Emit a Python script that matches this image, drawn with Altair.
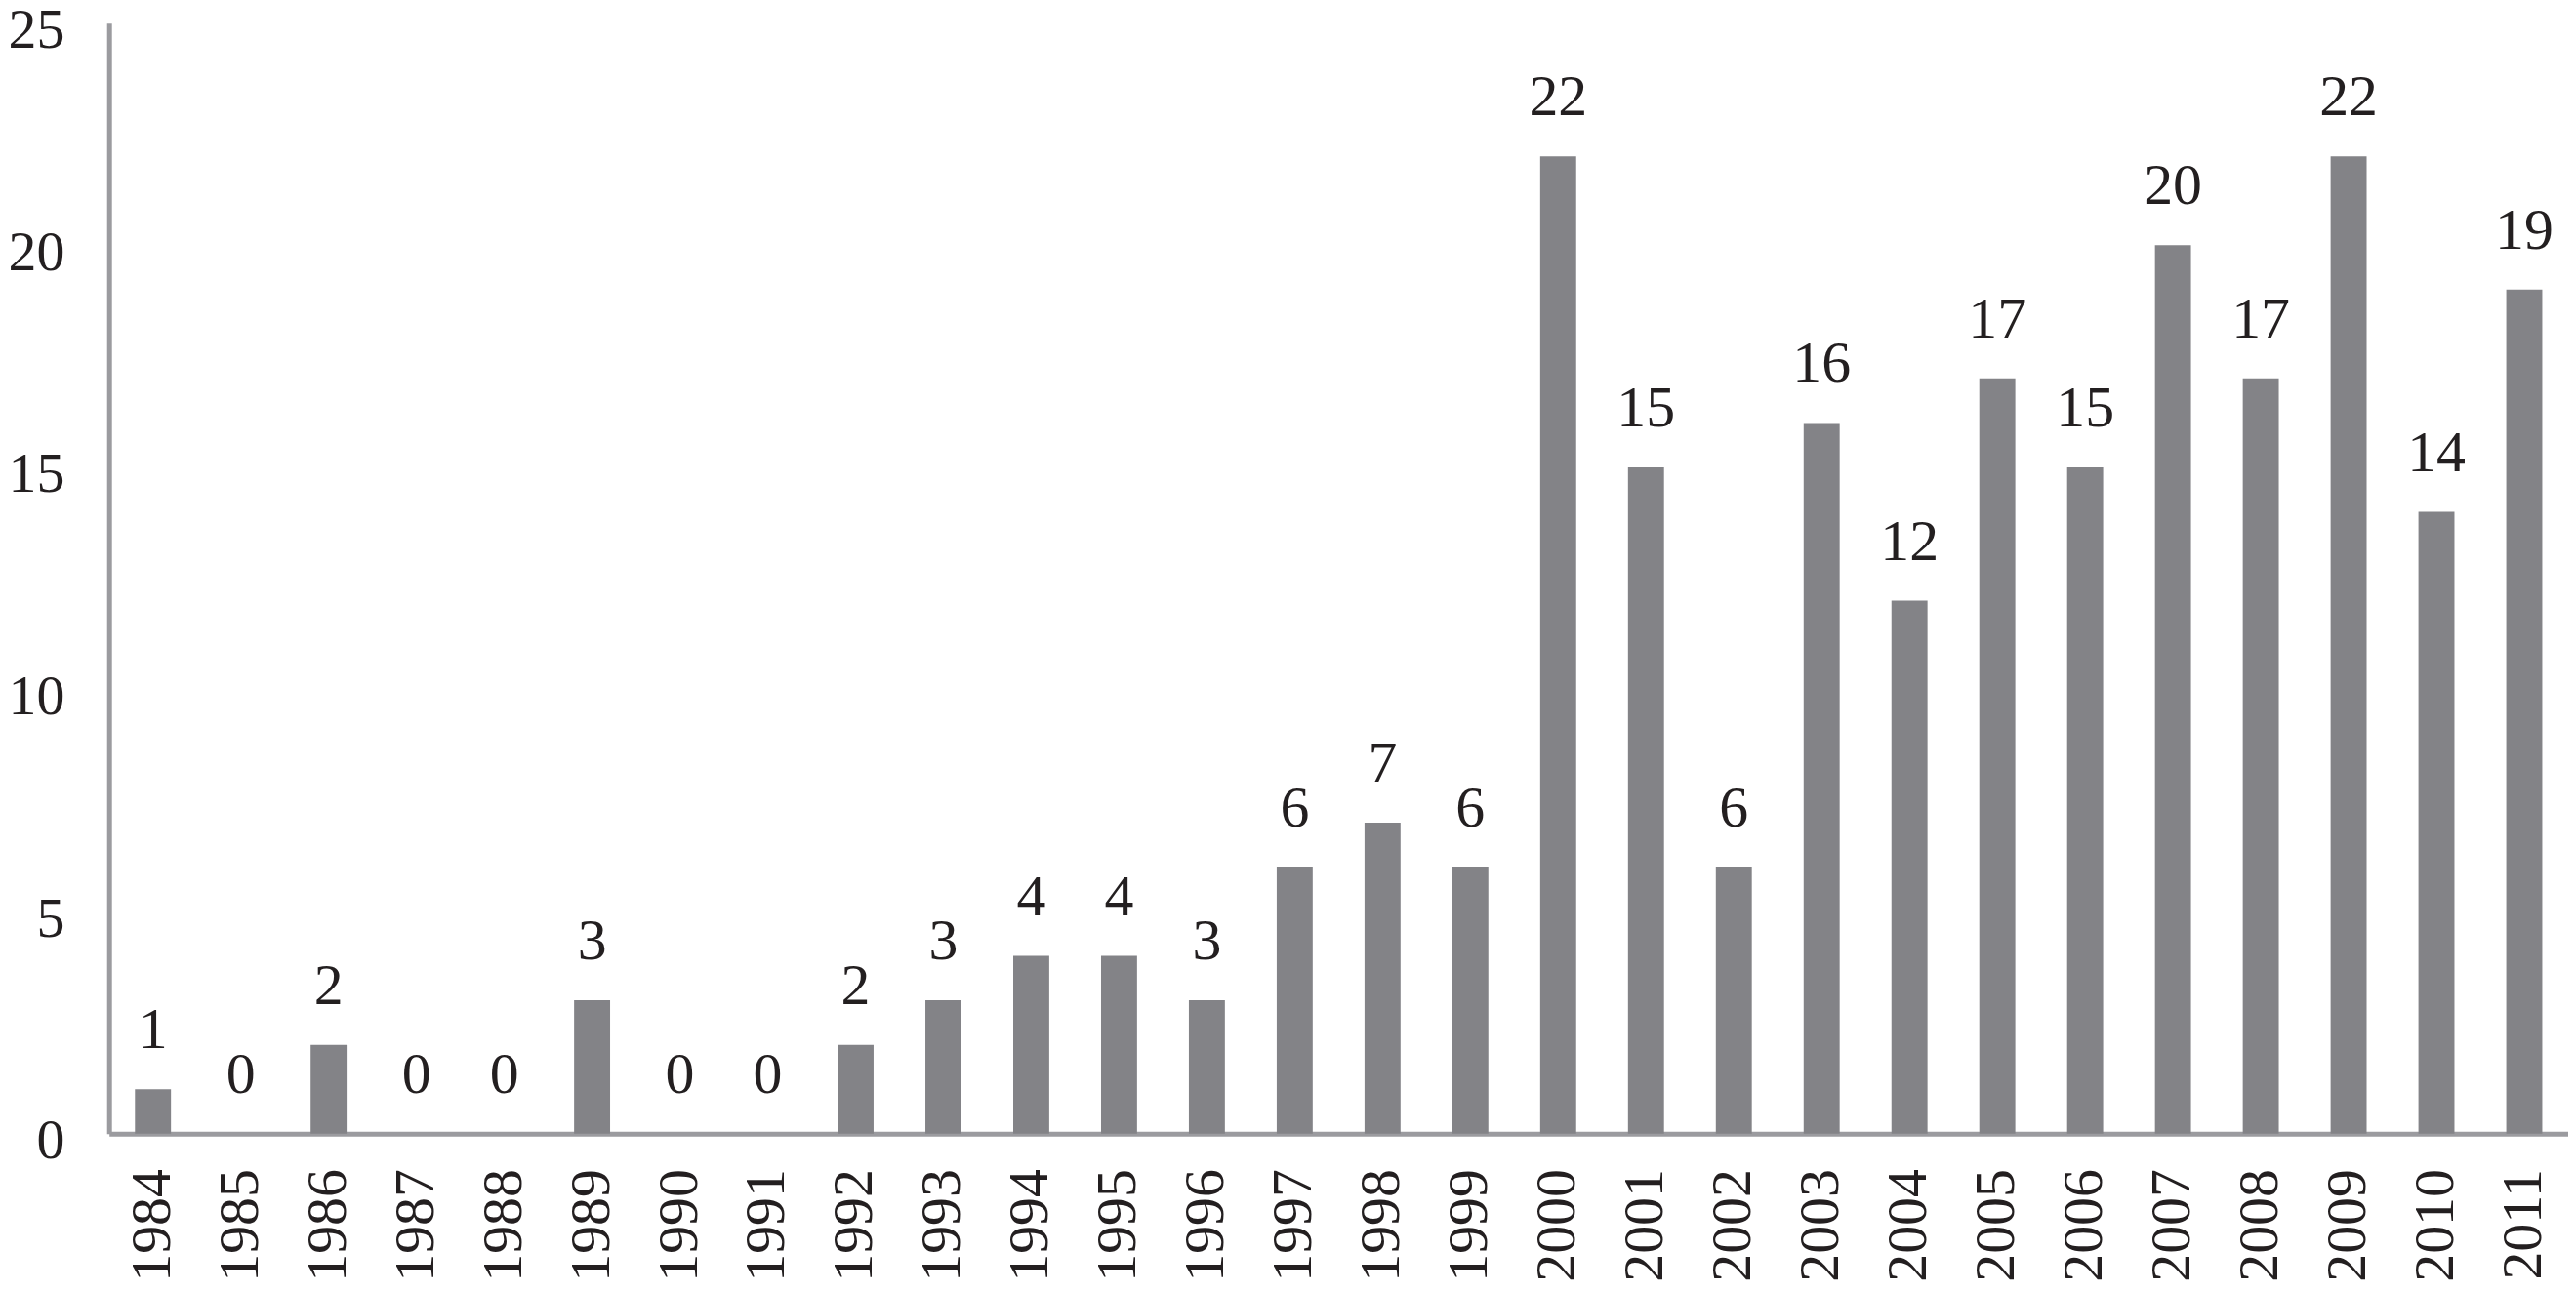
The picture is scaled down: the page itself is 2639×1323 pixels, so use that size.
import altair as alt
import pandas as pd

years = [str(y) for y in range(1984, 2012)]
counts = [1, 0, 2, 0, 0, 3, 0, 0, 2, 3, 4, 4, 3, 6, 7, 6, 22, 15, 6, 16, 12, 17, 15, 20, 17, 22, 14, 19]
y_ticks = [0, 5, 10, 15, 20, 25]

df = pd.DataFrame({"year": years, "count": counts})

FONT = "Liberation Serif"
TEXT = "#231f20"
AXIS = "#9b9b9f"
BAR = "#838387"

x = alt.X(
    "year:N",
    sort=years,
    scale=alt.Scale(paddingInner=0.59, paddingOuter=0.295),
    axis=alt.Axis(
        title=None,
        labelAngle=-90,
        labelFont=FONT,
        labelFontSize=58,
        labelColor=TEXT,
        labelPadding=36,
        ticks=False,
        domainColor=AXIS,
        domainWidth=5,
        grid=False,
    ),
)
y = alt.Y(
    "count:Q",
    scale=alt.Scale(domain=[0, 25], nice=False),
    axis=alt.Axis(
        title=None,
        values=y_ticks,
        labelFont=FONT,
        labelFontSize=58,
        labelColor=TEXT,
        labelPadding=46,
        labelOffset=8,
        ticks=False,
        domainColor=AXIS,
        domainWidth=5,
        grid=False,
    ),
)

bars = alt.Chart(df).mark_bar(color=BAR).encode(x=x, y=y)
labels = alt.Chart(df).mark_text(
    font=FONT, fontSize=60, color=TEXT, baseline="alphabetic", dy=-42
).encode(
    x=alt.X("year:N", sort=years),
    y=alt.Y("count:Q"),
    text="count:Q",
)

chart = (
    alt.layer(bars, labels)
    .properties(
        width=2526,
        height=1141,
        background="white",
        autosize=alt.AutoSizeParams(type="none"),
        padding={"left": 104, "top": 14, "right": 0, "bottom": 160},
    )
    .configure_axis(grid=False)
    .configure_view(stroke=None, strokeWidth=0)
)

chart.save("out.html", embed_options={"renderer": "svg", "actions": False})
